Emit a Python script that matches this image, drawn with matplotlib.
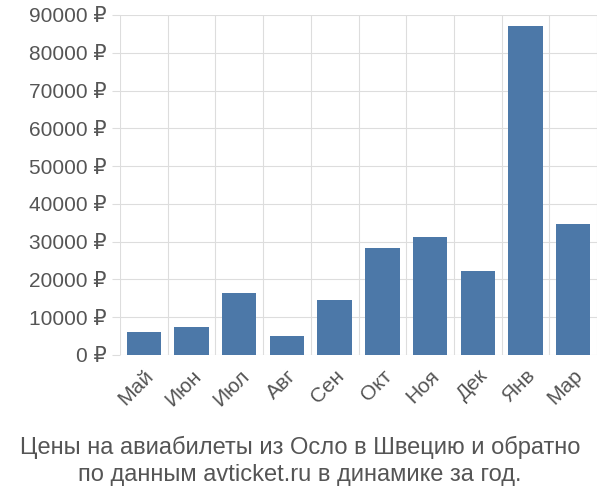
import matplotlib
matplotlib.use("Agg")
import matplotlib.pyplot as plt

months = ["Май", "Июн", "Июл", "Авг", "Сен", "Окт", "Ноя", "Дек", "Янв", "Мар"]
prices = [6000, 7400, 16400, 5000, 14500, 28300, 31200, 22200, 87100, 34700]
yticks = list(range(0, 90001, 10000))

plt.rcParams["font.family"] = ["Liberation Sans", "DejaVu Sans"]
fig = plt.figure(figsize=(6, 5), dpi=100)
ax = fig.add_axes([0.2, 0.29, 0.795, 0.68])
x = range(len(months))
ax.bar(x, prices, width=0.72, color="#4c78a8", zorder=2)
ax.set_xlim(-0.5, len(months) - 0.5)
ax.set_ylim(0, 90000)
ax.set_yticks(yticks)
ax.set_yticklabels([f"{v} ₽" for v in yticks], fontsize=15, color="#555555")
ax.set_xticks(list(x))
ax.set_xticklabels(months, rotation=45, ha="right", rotation_mode="anchor", fontsize=15, color="#555555")
ax.set_xticks([i + 0.5 for i in range(-1, len(months))], minor=True)
ax.grid(True, which="minor", axis="x", color="#dddddd", zorder=0)
ax.grid(True, which="major", axis="y", color="#dddddd", zorder=0)
ax.tick_params(axis="x", which="major", length=0, pad=8)
ax.tick_params(axis="x", which="minor", length=0)
ax.tick_params(axis="y", length=6, color="#dddddd")
for s in ["top", "right", "bottom", "left"]:
    ax.spines[s].set_visible(False)
fig.text(0.5, 0.078, "Цены на авиабилеты из Осло в Швецию и обратно\nпо данным avticket.ru в динамике за год.",
         ha="center", va="center", fontsize=17, color="#555555", linespacing=1.25)
fig.savefig("out.png", dpi=100)
